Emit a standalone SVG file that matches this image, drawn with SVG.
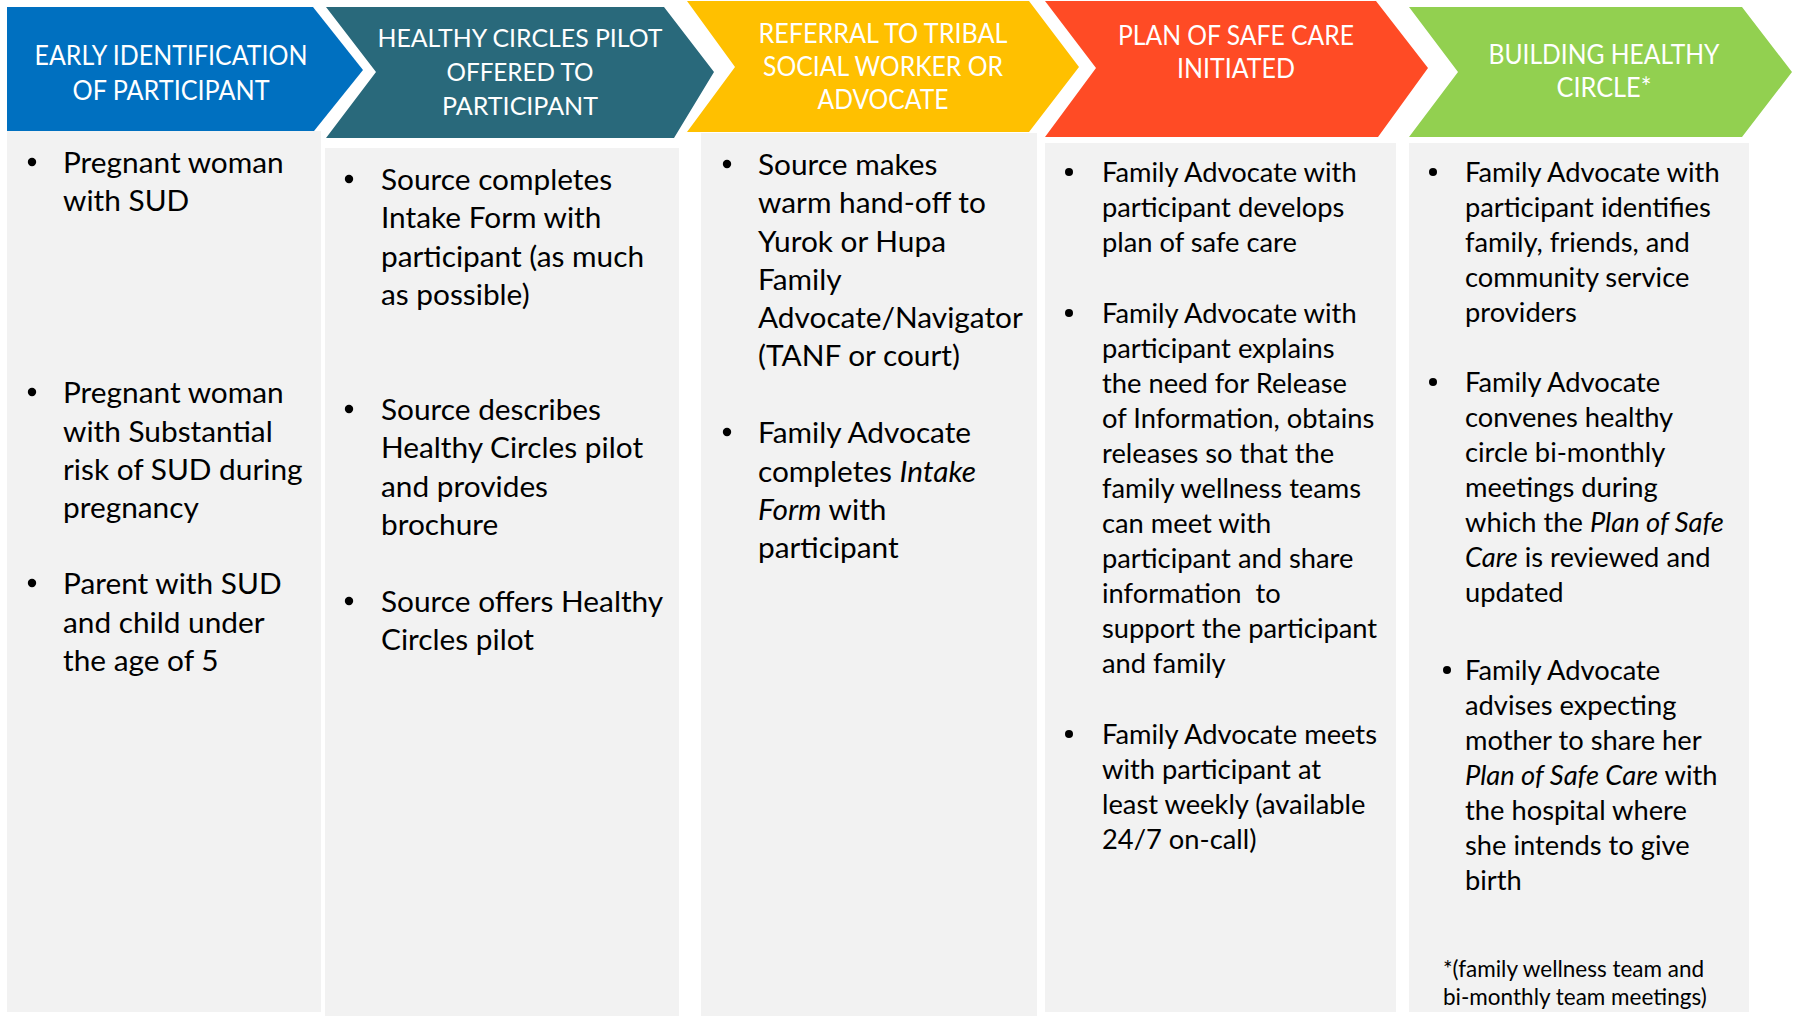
<svg xmlns="http://www.w3.org/2000/svg" width="1800" height="1016" viewBox="0 0 1800 1016">
  <style>
    .hdr { font-family: Lato, "Liberation Sans", sans-serif; fill: #ffffff; text-anchor: middle; }
    .body { font-family: Lato, "Liberation Sans", sans-serif; fill: #000000; font-size: 29.8px; }
    .small { font-family: Lato, "Liberation Sans", sans-serif; fill: #000000; font-size: 27.3px; }
    .note { font-family: Lato, "Liberation Sans", sans-serif; fill: #000000; font-size: 22.5px; }
    .panel { fill: #f2f2f2; }
    .dot { fill: #000000; }
    .it { font-style: italic; }
  </style>

  <rect width="1800" height="1016" fill="#ffffff"/>

  <!-- content panels under each step -->
  <g id="panels">
    <rect class="panel" x="7" y="131" width="314" height="881"/>
    <rect class="panel" x="325" y="148" width="354" height="868"/>
    <rect class="panel" x="701" y="133" width="336" height="883"/>
    <rect class="panel" x="1045" y="143" width="351" height="869"/>
    <rect class="panel" x="1409" y="143" width="340" height="869"/>
  </g>

  <!-- step 1 -->
  <g id="step1">
    <polygon points="7,7 313,7 363,70 314,131 7,131" fill="#0070c0"/>
    <text class="hdr" font-size="27" x="171" y="65" textLength="273" lengthAdjust="spacingAndGlyphs">EARLY IDENTIFICATION</text>
    <text class="hdr" font-size="27" x="171" y="100" textLength="197" lengthAdjust="spacingAndGlyphs">OF PARTICIPANT</text>
  </g>

  <!-- step 2 -->
  <g id="step2">
    <polygon points="326,7 664,7 714,72 674,138 326,138 376,72" fill="#29697b"/>
    <text class="hdr" font-size="25" x="520" y="47" textLength="285" lengthAdjust="spacingAndGlyphs">HEALTHY CIRCLES PILOT</text>
    <text class="hdr" font-size="25" x="520" y="81" textLength="147" lengthAdjust="spacingAndGlyphs">OFFERED TO</text>
    <text class="hdr" font-size="25" x="520" y="115" textLength="156" lengthAdjust="spacingAndGlyphs">PARTICIPANT</text>
  </g>

  <!-- step 3 -->
  <g id="step3">
    <polygon points="687,1 1029,1 1079,67 1029,132 687,132 735,67" fill="#ffc000"/>
    <text class="hdr" font-size="26" x="883" y="43" textLength="249" lengthAdjust="spacingAndGlyphs">REFERRAL TO TRIBAL</text>
    <text class="hdr" font-size="26" x="883" y="76" textLength="240" lengthAdjust="spacingAndGlyphs">SOCIAL WORKER OR</text>
    <text class="hdr" font-size="26" x="883" y="109" textLength="131" lengthAdjust="spacingAndGlyphs">ADVOCATE</text>
  </g>

  <!-- step 4 -->
  <g id="step4">
    <polygon points="1045,1 1376,1 1428,68 1378,137 1045,137 1096,68" fill="#ff4b25"/>
    <text class="hdr" font-size="26" x="1236" y="45" textLength="236" lengthAdjust="spacingAndGlyphs">PLAN OF SAFE CARE</text>
    <text class="hdr" font-size="26" x="1236" y="78" textLength="118" lengthAdjust="spacingAndGlyphs">INITIATED</text>
  </g>

  <!-- step 5 -->
  <g id="step5">
    <polygon points="1409,7 1742,7 1792,72 1742,137 1409,137 1458,72" fill="#92d050"/>
    <text class="hdr" font-size="27" x="1604" y="64" textLength="231" lengthAdjust="spacingAndGlyphs">BUILDING HEALTHY</text>
    <text class="hdr" font-size="27" x="1604" y="97" textLength="95" lengthAdjust="spacingAndGlyphs">CIRCLE*</text>
  </g>

  <!-- column 1 bullets -->
  <g id="list1">
    <circle class="dot" cx="32" cy="162" r="4.2"/>
    <circle class="dot" cx="32" cy="392" r="4.2"/>
    <circle class="dot" cx="32" cy="583" r="4.2"/>
    <text class="body" x="63" y="173">Pregnant woman</text>
    <text class="body" x="63" y="211">with SUD</text>
    <text class="body" x="63" y="403">Pregnant woman</text>
    <text class="body" x="63" y="442">with Substantial</text>
    <text class="body" x="63" y="480">risk of SUD during</text>
    <text class="body" x="63" y="518">pregnancy</text>
    <text class="body" x="63" y="594">Parent with SUD</text>
    <text class="body" x="63" y="633">and child under</text>
    <text class="body" x="63" y="671">the age of 5</text>
  </g>

  <!-- column 2 bullets -->
  <g id="list2">
    <circle class="dot" cx="349" cy="179" r="4.2"/>
    <circle class="dot" cx="349" cy="409" r="4.2"/>
    <circle class="dot" cx="349" cy="601" r="4.2"/>
    <text class="body" x="381" y="190">Source completes</text>
    <text class="body" x="381" y="228">Intake Form with</text>
    <text class="body" x="381" y="267">participant (as much</text>
    <text class="body" x="381" y="305">as possible)</text>
    <text class="body" x="381" y="420">Source describes</text>
    <text class="body" x="381" y="458">Healthy Circles pilot</text>
    <text class="body" x="381" y="497">and provides</text>
    <text class="body" x="381" y="535">brochure</text>
    <text class="body" x="381" y="612">Source offers Healthy</text>
    <text class="body" x="381" y="650">Circles pilot</text>
  </g>

  <!-- column 3 bullets -->
  <g id="list3">
    <circle class="dot" cx="727" cy="164" r="4.2"/>
    <circle class="dot" cx="727" cy="432" r="4.2"/>
    <text class="body" x="758" y="175">Source makes</text>
    <text class="body" x="758" y="213">warm hand-off to</text>
    <text class="body" x="758" y="252">Yurok or Hupa</text>
    <text class="body" x="758" y="290">Family</text>
    <text class="body" x="758" y="328">Advocate/Navigator</text>
    <text class="body" x="758" y="366">(TANF or court)</text>
    <text class="body" x="758" y="443">Family Advocate</text>
    <text class="body" x="758" y="482">completes <tspan class="it">Intake</tspan></text>
    <text class="body" x="758" y="520"><tspan class="it">Form</tspan> with</text>
    <text class="body" x="758" y="558">participant</text>
  </g>

  <!-- column 4 bullets -->
  <g id="list4">
    <circle class="dot" cx="1069" cy="172" r="4"/>
    <circle class="dot" cx="1069" cy="313" r="4"/>
    <circle class="dot" cx="1069" cy="734" r="4"/>
    <text class="small" x="1102" y="182">Family Advocate with</text>
    <text class="small" x="1102" y="217">participant develops</text>
    <text class="small" x="1102" y="252">plan of safe care</text>
    <text class="small" x="1102" y="323">Family Advocate with</text>
    <text class="small" x="1102" y="358">participant explains</text>
    <text class="small" x="1102" y="393">the need for Release</text>
    <text class="small" x="1102" y="428">of Information, obtains</text>
    <text class="small" x="1102" y="463">releases so that the</text>
    <text class="small" x="1102" y="498">family wellness teams</text>
    <text class="small" x="1102" y="533">can meet with</text>
    <text class="small" x="1102" y="568">participant and share</text>
    <text class="small" x="1102" y="603" xml:space="preserve">information  to</text>
    <text class="small" x="1102" y="638">support the participant</text>
    <text class="small" x="1102" y="673">and family</text>
    <text class="small" x="1102" y="744">Family Advocate meets</text>
    <text class="small" x="1102" y="779">with participant at</text>
    <text class="small" x="1102" y="814">least weekly (available</text>
    <text class="small" x="1102" y="849">24/7 on-call)</text>
  </g>

  <!-- column 5 bullets and footnote -->
  <g id="list5">
    <circle class="dot" cx="1433" cy="172" r="4"/>
    <circle class="dot" cx="1433" cy="382" r="4"/>
    <circle class="dot" cx="1447" cy="670" r="4"/>
    <text class="small" x="1465" y="182">Family Advocate with</text>
    <text class="small" x="1465" y="217">participant identifies</text>
    <text class="small" x="1465" y="252">family, friends, and</text>
    <text class="small" x="1465" y="287">community service</text>
    <text class="small" x="1465" y="322">providers</text>
    <text class="small" x="1465" y="392">Family Advocate</text>
    <text class="small" x="1465" y="427">convenes healthy</text>
    <text class="small" x="1465" y="462">circle bi-monthly</text>
    <text class="small" x="1465" y="497">meetings during</text>
    <text class="small" x="1465" y="532">which the <tspan class="it">Plan of Safe</tspan></text>
    <text class="small" x="1465" y="567"><tspan class="it">Care</tspan> is reviewed and</text>
    <text class="small" x="1465" y="602">updated</text>
    <text class="small" x="1465" y="680">Family Advocate</text>
    <text class="small" x="1465" y="715">advises expecting</text>
    <text class="small" x="1465" y="750">mother to share her</text>
    <text class="small" x="1465" y="785"><tspan class="it">Plan of Safe Care</tspan> with</text>
    <text class="small" x="1465" y="820">the hospital where</text>
    <text class="small" x="1465" y="855">she intends to give</text>
    <text class="small" x="1465" y="890">birth</text>
    <text class="note" x="1443" y="977">*(family wellness team and</text>
    <text class="note" x="1443" y="1005">bi-monthly team meetings)</text>
  </g>

  <!-- the steps are joined edge to edge; no separate connector lines -->
  <g id="connectors"/>
</svg>
